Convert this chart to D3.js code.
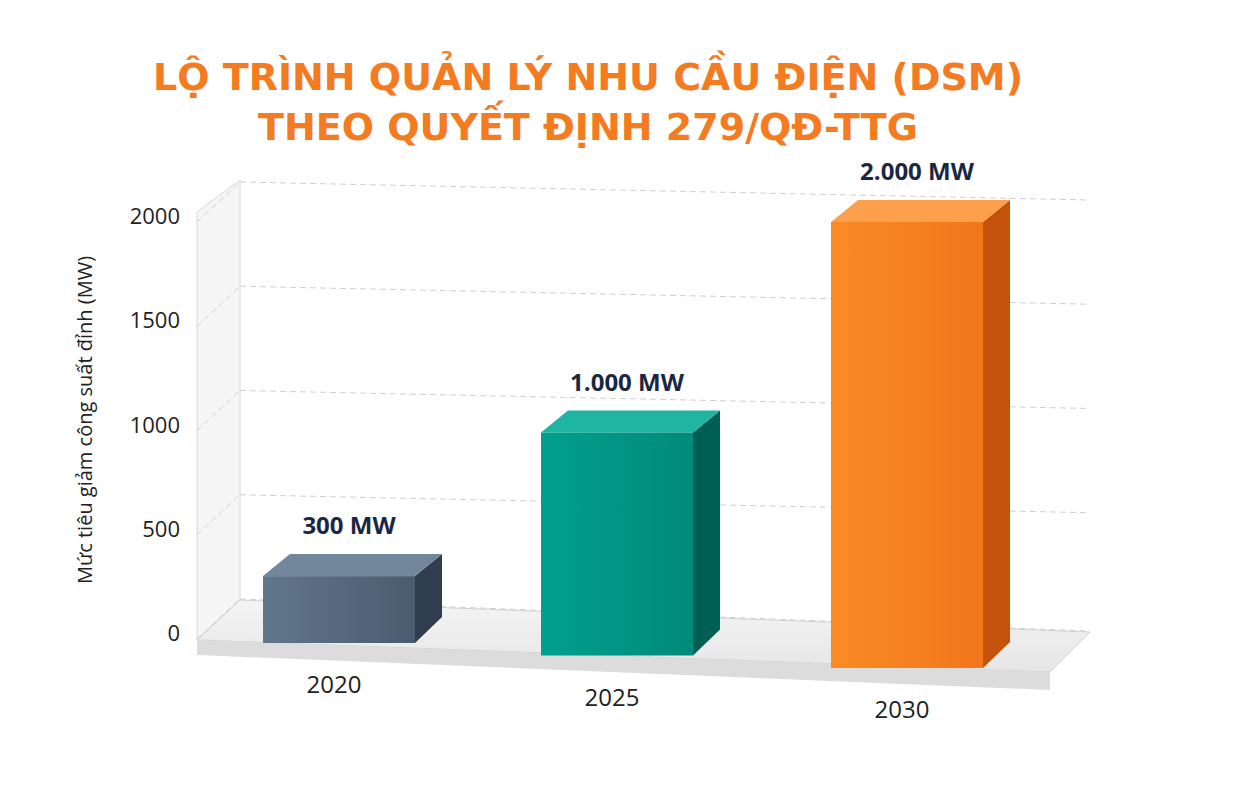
<!DOCTYPE html>
<html><head><meta charset="utf-8">
<script src="https://cdn.jsdelivr.net/npm/d3@7"></script>
<style>body{margin:0;background:#fff}</style></head>
<body><svg id="c" width="1233" height="787"></svg>
<script>
const categories = ["2020","2025","2030"];
const values = [300,1000,2000];
const valueLabels = ["300 MW","1.000 MW","2.000 MW"];
const yTicks = [0,500,1000,1500,2000];
const titleLines = ["LỘ TRÌNH QUẢN LÝ NHU CẦU ĐIỆN (DSM)","THEO QUYẾT ĐỊNH 279/QĐ-TTG"];
const yLabel = "Mức tiêu giảm công suất đỉnh (MW)";
const palettes = [
  {front:["#62768c","#4a5c70"],side:"#2f3d4e",top:"#72879c"},
  {front:["#00a08e","#008a7a"],side:"#005f55",top:"#20b5a3"},
  {front:["#f98b25","#f2761a"],side:"#c4520a",top:"#fca04e"}
];

const svg = d3.select("#c");
const defs = svg.append("defs");
palettes.forEach((p,i)=>{
  const g = defs.append("linearGradient").attr("id","g"+i).attr("x1",0).attr("x2",1).attr("y1",0).attr("y2",0);
  g.append("stop").attr("offset","0%").attr("stop-color",p.front[0]);
  g.append("stop").attr("offset","100%").attr("stop-color",p.front[1]);
});
const fg = defs.append("linearGradient").attr("id","floor").attr("x1",0).attr("x2",0).attr("y1",0).attr("y2",1);
fg.append("stop").attr("offset","0%").attr("stop-color","#f4f4f4");
fg.append("stop").attr("offset","100%").attr("stop-color","#e6e6e6");

// title
svg.selectAll("text.title").data(titleLines).join("text")
  .attr("x",588).attr("y",(d,i)=>90+i*50).attr("text-anchor","middle")
  .attr("font-family","'DejaVu Sans', sans-serif").attr("font-weight","bold")
  .attr("font-size",38).attr("fill","#f47b20").text(d=>d);

const y = d3.scaleLinear().domain([0,2000]).range([633,216]);
// back wall
svg.append("path").attr("d","M197,640 L240,600 L240,180 L197,212 Z").attr("fill","#f5f5f5").attr("stroke","#d8d8d8");
// floor
svg.append("path").attr("d","M197,640 L240,600 L1090,632 L1050,672 Z").attr("fill","url(#floor)").attr("stroke","#d0d0d0");
svg.append("path").attr("d","M197,640 L1050,672 L1050,690 L197,655 Z").attr("fill","#dcdcdc");
// grid
svg.selectAll("line.grid").data(yTicks).join("line")
  .attr("x1",240).attr("x2",1090)
  .attr("y1",d=>y(d)-34).attr("y2",d=>y(d)-34+ (d===0?32:18))
  .attr("stroke","#cfcfcf").attr("stroke-dasharray","6,4");
svg.selectAll("line.gw").data(yTicks).join("line")
  .attr("x1",197).attr("x2",240).attr("y1",d=>y(d)+6).attr("y2",d=>y(d)-34)
  .attr("stroke","#cfcfcf").attr("stroke-dasharray","6,4");
// y ticks
svg.selectAll("text.yt").data(yTicks).join("text")
  .attr("x",180).attr("y",d=>y(d)+8).attr("text-anchor","end")
  .attr("font-family","'Open Sans', sans-serif").attr("font-size",22).attr("fill","#222").text(d=>d);
svg.append("text").attr("transform","translate(92,420) rotate(-90)").attr("text-anchor","middle")
  .attr("font-family","'Open Sans', sans-serif").attr("font-size",20).attr("fill","#222").text(yLabel);

const x = d3.scalePoint().domain(categories).range([263,831]);
const base = d3.scaleLinear().domain([0,2]).range([643,668]);
const h = d3.scaleLinear().domain([0,2000]).range([0,446]);
const bw = 152, dx = 27, dy = 22;
categories.forEach((c,i)=>{
  const x0 = x(c) + (i===1?-6:0), yb = base(i), yt = yb - h(values[i]);
  const p = palettes[i], g = svg.append("g");
  g.append("path").attr("d",`M${x0+bw},${yt} L${x0+bw+dx},${yt-dy} L${x0+bw+dx},${yb-dy-4} L${x0+bw},${yb} Z`).attr("fill",p.side);
  g.append("path").attr("d",`M${x0},${yt} L${x0+dx},${yt-dy} L${x0+bw+dx},${yt-dy} L${x0+bw},${yt} Z`).attr("fill",p.top);
  g.append("rect").attr("x",x0).attr("y",yt).attr("width",bw).attr("height",yb-yt).attr("fill",`url(#g${i})`);
  svg.append("text").attr("x",x0+bw/2+10).attr("y",yt-dy-20).attr("text-anchor","middle")
    .attr("font-family","'Open Sans', sans-serif").attr("font-weight","bold").attr("font-size",24).attr("fill","#1b2742").text(valueLabels[i]);
  svg.append("text").attr("x",x0+bw/2-5).attr("y",yb+50).attr("text-anchor","middle")
    .attr("font-family","'Open Sans', sans-serif").attr("font-size",24).attr("fill","#222").text(c);
});
</script></body></html>
